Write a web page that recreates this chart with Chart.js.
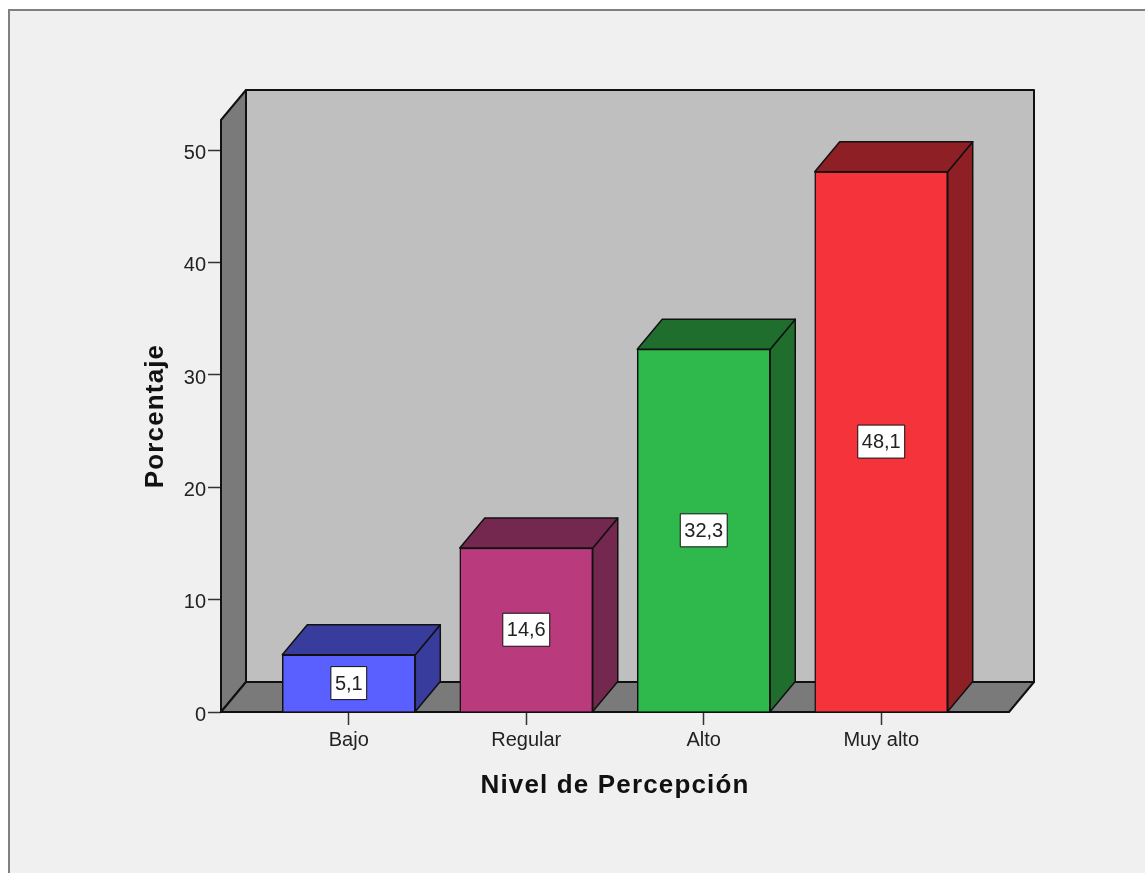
<!DOCTYPE html>
<html lang="es">
<head>
  <meta charset="UTF-8" />
  <title>Nivel de Percepción</title>
  <style>
    html, body { margin: 0; padding: 0; background: #fff; overflow: hidden; }
    #frame {
      position: absolute; left: 8px; top: 9px; width: 1137px; height: 864px;
      background: #f0f0f0; border-left: 2px solid #808080; border-top: 2px solid #808080;
      box-sizing: border-box;
    }
    canvas { position: absolute; left: 0; top: 0; }
  </style>
</head>
<body>
  <div id="frame"></div>
  <canvas id="chart" width="1145" height="873"></canvas>

  <script src="https://cdn.jsdelivr.net/npm/chart.js"></script>
  <script>
    const categories = ['Bajo', 'Regular', 'Alto', 'Muy alto'];
    const values = [5.1, 14.6, 32.3, 48.1];
    const frontColors = ['#5a5fff', '#b93b7d', '#2fb84c', '#f4333b'];
    const sideColors = ['#383c9c', '#74274f', '#1f6e2e', '#8e1f24'];

    const depthX = 25;
    const depthY = 30;
    const fontName = "'Liberation Sans', Arial, sans-serif";
    const lineColor = '#111';

    function poly(ctx, pts, fill) {
      ctx.beginPath();
      pts.forEach((p, i) => i ? ctx.lineTo(p[0], p[1]) : ctx.moveTo(p[0], p[1]));
      ctx.closePath();
      ctx.fillStyle = fill;
      ctx.fill();
      ctx.stroke();
    }

    // back wall, left wall and floor
    const box3d = {
      id: 'box3d',
      beforeDatasetsDraw(chart) {
        const { ctx, chartArea: a } = chart;
        ctx.save();
        ctx.strokeStyle = lineColor;
        ctx.lineWidth = 2;
        ctx.lineJoin = 'round';
        poly(ctx, [[a.left + depthX, a.top - depthY], [a.right + depthX, a.top - depthY],
                   [a.right + depthX, a.bottom - depthY], [a.left + depthX, a.bottom - depthY]], '#bfbfbf');
        poly(ctx, [[a.left, a.top], [a.left + depthX, a.top - depthY],
                   [a.left + depthX, a.bottom - depthY], [a.left, a.bottom]], '#7a7a7a');
        poly(ctx, [[a.left, a.bottom], [a.left + depthX, a.bottom - depthY],
                   [a.right + depthX, a.bottom - depthY], [a.right, a.bottom]], '#7a7a7a');
        ctx.restore();
      }
    };

    // bar side and top faces, then the value boxes
    const barFaces = {
      id: 'barFaces',
      afterDatasetsDraw(chart) {
        const { ctx } = chart;
        const bars = chart.getDatasetMeta(0).data;
        ctx.save();
        ctx.strokeStyle = lineColor;
        ctx.lineWidth = 1.5;
        ctx.lineJoin = 'round';
        bars.forEach((bar, i) => {
          const l = bar.x - bar.width / 2, r = bar.x + bar.width / 2;
          const t = bar.y, b = bar.base;
          poly(ctx, [[r, t], [r + depthX, t - depthY], [r + depthX, b - depthY], [r, b]], sideColors[i]);
          poly(ctx, [[l, t], [l + depthX, t - depthY], [r + depthX, t - depthY], [r, t]], sideColors[i]);
        });
        ctx.font = '20px ' + fontName;
        ctx.textAlign = 'center';
        ctx.textBaseline = 'middle';
        bars.forEach((bar, i) => {
          const txt = values[i].toFixed(1).replace('.', ',');
          const w = ctx.measureText(txt).width + 8;
          const h = 33;
          const cy = (bar.y + bar.base) / 2;
          ctx.fillStyle = '#fff';
          ctx.lineWidth = 1;
          ctx.fillRect(bar.x - w / 2, cy - h / 2, w, h);
          ctx.strokeRect(bar.x - w / 2, cy - h / 2, w, h);
          ctx.fillStyle = '#222';
          ctx.fillText(txt, bar.x, cy + 1);
        });
        ctx.restore();
      }
    };

    // bold axis titles are spaced out; tick labels have z:1 so they draw after the reset
    const titleSpacing = {
      id: 'titleSpacing',
      beforeDraw(chart) { chart.ctx.letterSpacing = '1.15px'; },
      beforeDatasetsDraw(chart) { chart.ctx.letterSpacing = '0px'; }
    };

    new Chart(document.getElementById('chart'), {
      type: 'bar',
      data: {
        datasets: [{
          data: values.map((v, i) => ({ x: i, y: v })),
          backgroundColor: frontColors,
          borderColor: lineColor,
          borderWidth: 1.5,
          barThickness: 133
        }]
      },
      plugins: [titleSpacing, box3d, barFaces],
      options: {
        responsive: false,
        animation: false,
        layout: { padding: { left: 140, right: 136, top: 120, bottom: 72 } },
        plugins: { legend: { display: false }, tooltip: { enabled: false } },
        scales: {
          x: {
            type: 'linear',
            offset: false,
            min: -0.72,
            max: 3.72,
            afterBuildTicks(scale) { scale.ticks = categories.map((c, i) => ({ value: i })); },
            afterFit(scale) { scale.height = 89; },
            border: { display: false },
            grid: { offset: false, drawOnChartArea: false, tickLength: 13, tickColor: '#333', tickWidth: 1.5 },
            ticks: {
              z: 1,
              autoSkip: false,
              maxRotation: 0,
              padding: 3,
              color: '#222',
              font: { family: fontName, size: 20 },
              callback: v => categories[v]
            },
            title: {
              display: true,
              text: 'Nivel de Percepción',
              color: '#111',
              font: { family: fontName, size: 26, weight: 'bold' },
              padding: 0
            }
          },
          y: {
            min: 0,
            max: 52.7,
            afterFit(scale) { scale.width = 81; },
            border: { display: false },
            grid: { drawOnChartArea: false, tickLength: 13, tickColor: '#333', tickWidth: 1.5 },
            ticks: {
              z: 1,
              stepSize: 10,
              includeBounds: false,
              padding: 2,
              labelOffset: 3,
              color: '#222',
              font: { family: fontName, size: 20 }
            },
            title: {
              display: true,
              text: 'Porcentaje',
              color: '#111',
              font: { family: fontName, size: 26, weight: 'bold' },
              padding: 0
            }
          }
        }
      }
    });
  </script>
</body>
</html>
